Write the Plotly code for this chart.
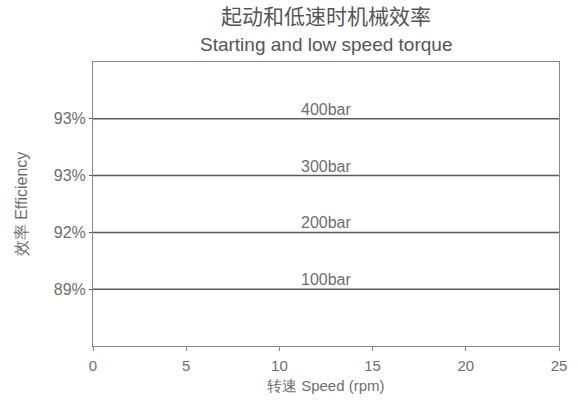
import plotly.graph_objects as go

speed = [0, 25]
pressures = ["100bar", "200bar", "300bar", "400bar"]
levels = [1, 2, 3, 4]
eff_labels = ["89%", "92%", "93%", "93%"]
x_ticks = [0, 5, 10, 15, 20, 25]

font = "Liberation Sans, Arial, sans-serif"
gray = "#6e6e6e"
axis_c = "#8a8a8a"

fig = go.Figure()
for p, lv in zip(pressures, levels):
    fig.add_trace(go.Scatter(x=speed, y=[lv, lv], mode="lines",
                             line=dict(color="#5a5a5a", width=1.5),
                             showlegend=False, hoverinfo="skip", cliponaxis=False))
    fig.add_annotation(x=12.5, y=lv, text=p, showarrow=False, yanchor="bottom",
                       yshift=-1, font=dict(size=16, color=gray, family=font))

fig.add_annotation(x=0.5, y=1, xref="paper", yref="paper", yanchor="middle", yshift=47,
                   text="起动和低速时机械效率", showarrow=False,
                   font=dict(size=21, color="#555", family="Noto Sans CJK SC"))
fig.add_annotation(x=0.5, y=1, xref="paper", yref="paper", yanchor="middle", yshift=18,
                   text="Starting and low speed torque", showarrow=False,
                   font=dict(size=19, color="#555", family=font))
fig.add_annotation(x=0.5, y=0, xref="paper", yref="paper", yanchor="middle", yshift=-39,
                   text="转速 Speed (rpm)", showarrow=False,
                   font=dict(size=15, color=gray, family=font))

fig.update_layout(
    width=577, height=403,
    margin=dict(l=93, r=18, t=62, b=57, autoexpand=False),
    paper_bgcolor="white", plot_bgcolor="white",
    font=dict(family=font, color=gray, size=15),
    xaxis=dict(range=[0, 25], tickvals=x_ticks, ticks="outside", ticklen=4,
               tickcolor=axis_c, showgrid=False, zeroline=False,
               showline=True, linecolor=axis_c, linewidth=1, mirror=True,
               ticklabelstandoff=2, automargin=False,
               tickfont=dict(size=15, color=gray)),
    yaxis=dict(range=[0, 5], tickvals=levels, ticktext=eff_labels, ticks="outside",
               ticklen=3, tickcolor="#5a5a5a", showgrid=False, zeroline=False,
               showline=True, linecolor=axis_c, linewidth=1, mirror=True,
               automargin=False,
               title=dict(text="效率 Efficiency", standoff=22,
                          font=dict(size=16, color=gray, family=font)),
               tickfont=dict(size=16, color=gray)),
)

fig.write_html("out.html", config={"displayModeBar": False},
               post_script="document.body.style.margin='0px';")
